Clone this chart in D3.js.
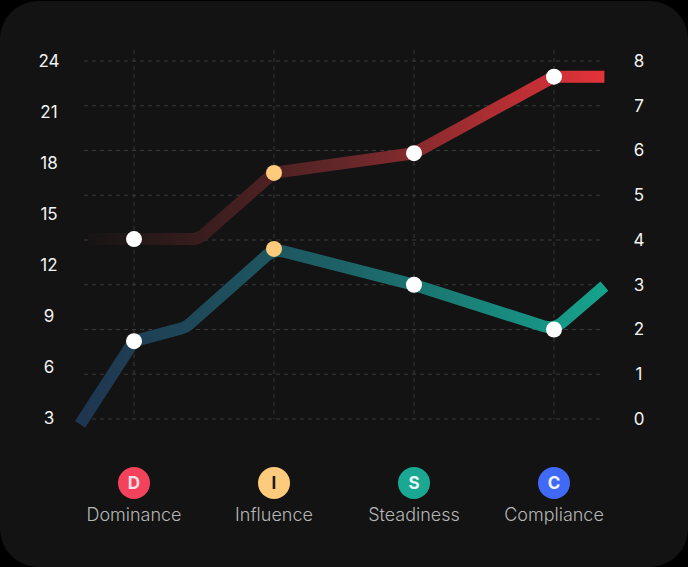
<!DOCTYPE html>
<html>
<head>
  <title>DISC chart</title>
  <script src="https://d3js.org/d3.v7.min.js"></script>
  <style>
    html, body { margin: 0; padding: 0; background: #000; }
    svg { display: block; }
    text { font-family: Inter, sans-serif; }
    .tick text { fill: #f2f2f2; font-size: 17px; font-weight: 400; text-anchor: middle; }
    .domain, .tick line { display: none; }
    .grid line { stroke: #3a3a3a; stroke-width: 1; stroke-dasharray: 4 4; }
    .name { fill: #b6b6b6; font-size: 18px; font-weight: 300; text-anchor: middle; }
    .letter { font-size: 17px; font-weight: 700; text-anchor: middle; }
  </style>
</head>
<body>
  <script>
    var categories = ["Dominance", "Influence", "Steadiness", "Compliance"];
    var letters = ["D", "I", "S", "C"];
    var badgeColors = ["#f2425c", "#fdcb7b", "#1aa893", "#4069f6"];
    var letterColors = ["#f7e0e3", "#1b1b1b", "#e6f7f3", "#f0f3ff"];

    var leftTicks = [3, 6, 9, 12, 15, 18, 21, 24];
    var rightTicks = [0, 1, 2, 3, 4, 5, 6, 7, 8];

    // position runs along the categories: 0 = Dominance ... 3 = Compliance
    var redPos = [-0.33, 0, 0.46, 1, 2, 3, 3.36];
    var redVal = [4.02, 4.02, 4.02, 5.5, 5.94, 7.65, 7.65];
    var tealPos = [-0.385, 0, 0.37, 1, 2, 3, 3.36];
    var tealVal = [-0.12, 1.74, 2.05, 3.8, 3, 2, 2.97];

    var redDotVal = [4.02, 5.5, 5.94, 7.65];
    var tealDotVal = [1.74, 3.8, 3, 2];
    var dotColors = ["#ffffff", "#fdcb7b", "#ffffff", "#ffffff"];

    var width = 688, height = 567;

    var x = d3.scaleLinear().domain([0, 3]).range([134, 554]);
    var yRight = d3.scaleLinear().domain([0, 8]).range([419, 61]);
    var yLeft = d3.scaleLinear().domain([3, 24]).range([418, 61]);

    var svg = d3.select("body").append("svg")
      .attr("width", width)
      .attr("height", height);

    var defs = svg.append("defs");

    function gradient(id, from, mid, to) {
      var g = defs.append("linearGradient")
        .attr("id", id)
        .attr("gradientUnits", "userSpaceOnUse")
        .attr("x1", 85).attr("x2", 605)
        .attr("y1", 0).attr("y2", 0);
      g.append("stop").attr("offset", "0%").attr("stop-color", from);
      g.append("stop").attr("offset", "50%").attr("stop-color", mid);
      g.append("stop").attr("offset", "100%").attr("stop-color", to);
    }
    gradient("redLine", "#151414", "#642729", "#e5333a");
    gradient("tealLine", "#1f3650", "#1d6266", "#15a38c");

    svg.append("rect")
      .attr("x", 0).attr("y", 1)
      .attr("width", width).attr("height", height - 1)
      .attr("rx", 38)
      .attr("fill", "#131313");

    var grid = svg.append("g").attr("class", "grid");

    grid.selectAll(".h")
      .data(rightTicks)
      .enter()
      .append("line")
      .attr("x1", 84).attr("x2", 604)
      .attr("y1", function(d){ return yRight(d); })
      .attr("y2", function(d){ return yRight(d); });

    grid.selectAll(".v")
      .data(d3.range(categories.length))
      .enter()
      .append("line")
      .attr("x1", function(d){ return x(d); })
      .attr("x2", function(d){ return x(d); })
      .attr("y1", 50).attr("y2", 419);

    svg.append("g")
      .attr("transform", "translate(49,0)")
      .call(d3.axisLeft(yLeft).tickValues(leftTicks).tickSize(0).tickPadding(0))
      .selectAll("text").attr("x", 0);

    svg.append("g")
      .attr("transform", "translate(639,0)")
      .call(d3.axisRight(yRight).tickValues(rightTicks).tickSize(0).tickPadding(0))
      .selectAll("text").attr("x", 0);

    // straight segments with slightly rounded corners
    function roundedLine(pos, val, r) {
      var p = d3.path();
      p.moveTo(x(pos[0]), yRight(val[0]));
      for (var i = 1; i < pos.length - 1; i++) {
        p.arcTo(x(pos[i]), yRight(val[i]), x(pos[i + 1]), yRight(val[i + 1]), r);
      }
      p.lineTo(x(pos[pos.length - 1]), yRight(val[val.length - 1]));
      return p.toString();
    }

    svg.append("path")
      .attr("d", roundedLine(redPos, redVal, 20))
      .attr("fill", "none")
      .attr("stroke", "url(#redLine)")
      .attr("stroke-width", 12);

    svg.append("path")
      .attr("d", roundedLine(tealPos, tealVal, 20))
      .attr("fill", "none")
      .attr("stroke", "url(#tealLine)")
      .attr("stroke-width", 12);

    [redDotVal, tealDotVal].forEach(function(vals) {
      svg.append("g").selectAll("circle")
        .data(vals)
        .enter()
        .append("circle")
        .attr("cx", function(d, i){ return x(i); })
        .attr("cy", function(d){ return yRight(d); })
        .attr("r", 8)
        .attr("fill", function(d, i){ return dotColors[i]; });
    });

    var legend = svg.append("g").selectAll("g")
      .data(categories)
      .enter()
      .append("g")
      .attr("transform", function(d, i){ return "translate(" + x(i) + ",0)"; });

    legend.append("circle")
      .attr("cy", 483)
      .attr("r", 16)
      .attr("fill", function(d, i){ return badgeColors[i]; });

    legend.append("text")
      .attr("class", "letter")
      .attr("y", 489)
      .attr("fill", function(d, i){ return letterColors[i]; })
      .text(function(d, i){ return letters[i]; });

    legend.append("text")
      .attr("class", "name")
      .attr("y", 521)
      .text(function(d){ return d; });
  </script>
</body>
</html>
